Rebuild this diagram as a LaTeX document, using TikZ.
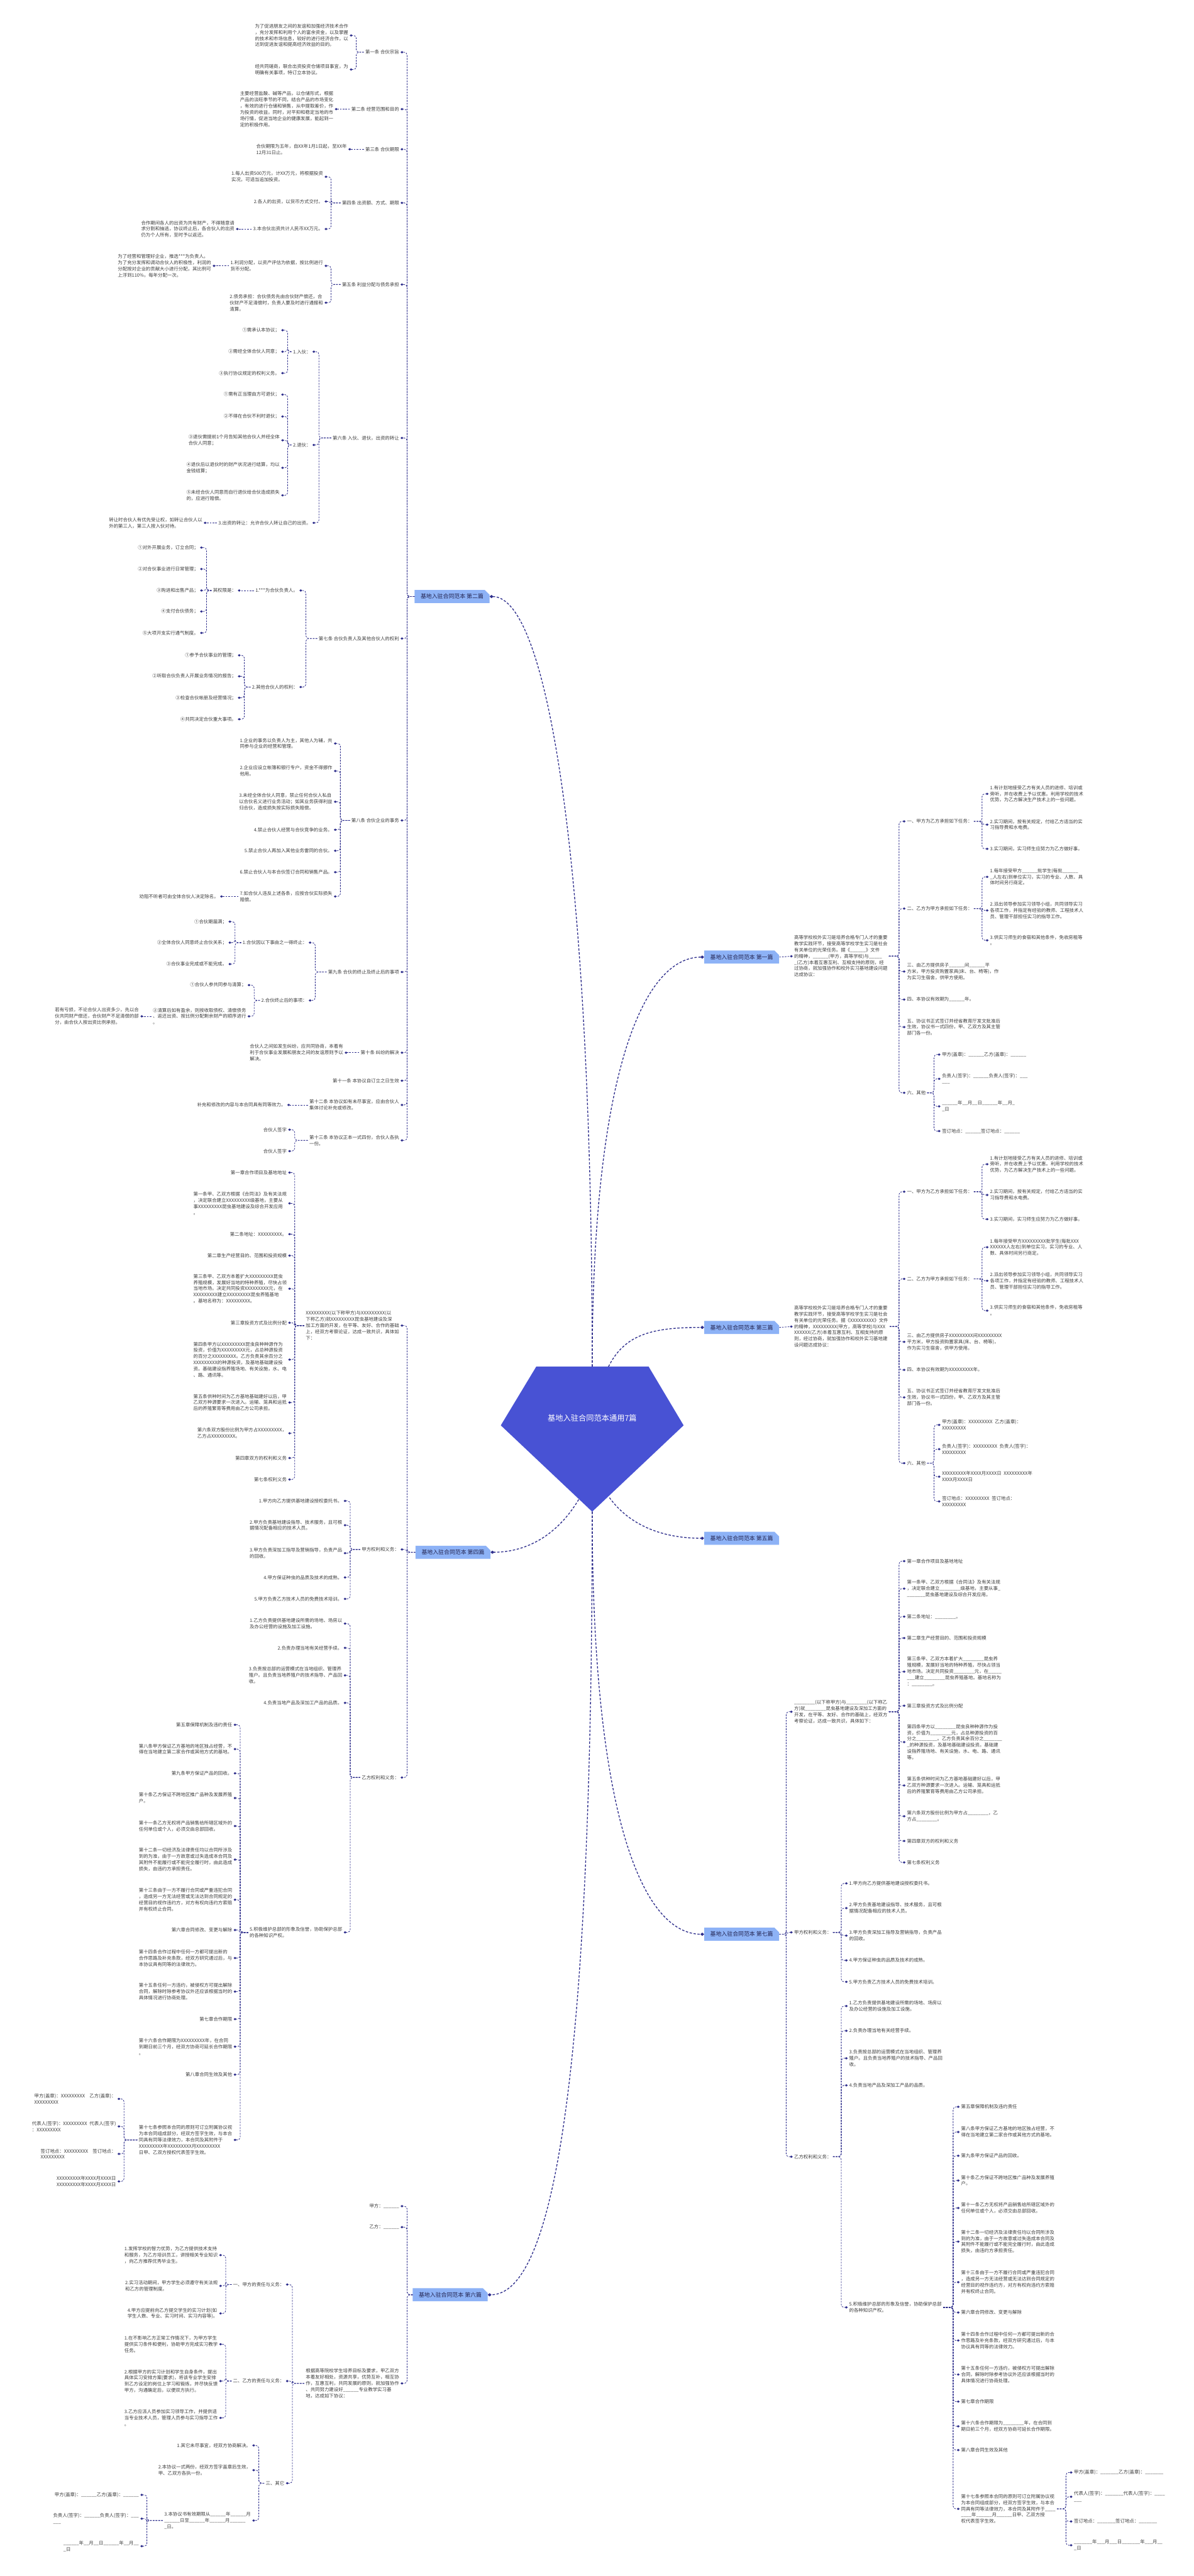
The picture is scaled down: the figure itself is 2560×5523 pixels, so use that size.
\documentclass[tikz,border=0pt]{standalone}
\usepackage{fontspec}
\setmainfont{Noto Sans CJK SC}
\usepackage{xcolor}
\usepackage{tikz}
\usetikzlibrary{positioning,calc,shapes.misc,arrows.meta}

\definecolor{rootblue}{RGB}{72,82,212}
\definecolor{tabblue}{RGB}{141,178,246}
\definecolor{linkblue}{RGB}{46,46,140}
\definecolor{leafgray}{RGB}{60,60,60}
\definecolor{tabtext}{RGB}{35,35,80}
\newcommand{\blanksix}{\_\_\_\_\_\_}
\newcommand{\blankseven}{\_\_\_\_\_\_\_}
\newcommand{\blankeight}{\_\_\_\_\_\_\_\_}

\begin{document}
\begin{tikzpicture}[x=1pt,y=-1pt,
  leaf/.style={font=\fontsize{10}{13.3}\selectfont, text=leafgray, align=left,
    inner xsep=3pt, inner ysep=1pt},
  lnode/.style={leaf, anchor=east},
  rnode/.style={leaf, anchor=west},
  tab/.style={chamfered rectangle, chamfered rectangle corners=north east,
    chamfered rectangle xsep=5pt, chamfered rectangle ysep=5pt, fill=tabblue,
    text=tabtext, font=\fontsize{12}{14}\selectfont, minimum height=28pt, inner xsep=8pt},
  lk/.style={draw=linkblue, line width=1.1pt, dash pattern=on 3.5pt off 2.5pt,
    rounded corners=6pt, -{Diamond[length=6pt,width=5pt]}},
  trunk/.style={draw=linkblue, line width=1.8pt, dash pattern=on 5pt off 3.5pt,
    -{Diamond[length=8pt,width=7pt]}}
]
  \fill[white] (0,0) rectangle (2560,5523);
  \useasboundingbox (0,0) rectangle (2560,5523);

  % root
  \fill[rootblue] (1150,2930) -- (1391,2930) -- (1466,3056) -- (1270,3241) -- (1074,3056) -- cycle;
  \node[font=\fontsize{16.5}{20}\selectfont, text=white] (root) at (1270,3040) {基地入驻合同范本通用7篇};
  \coordinate (rtop) at (1270,2930);
  \coordinate (rtopr) at (1305,2930);
  \coordinate (rbotr) at (1307,3211);
  \coordinate (rbotl) at (1241,3215);
  \coordinate (rtip) at (1270,3241);

  % branches
  \node[tab, anchor=east] (b2) at (1050,1279) {基地入驻合同范本 第二篇};
  \node[tab, anchor=east] (b4) at (1052,3328) {基地入驻合同范本 第四篇};
  \node[tab, anchor=east] (b6) at (1046,4920) {基地入驻合同范本 第六篇};
  \node[tab, anchor=west] (b1) at (1510,2052) {基地入驻合同范本 第一篇};
  \node[tab, anchor=west] (b3) at (1510,2846) {基地入驻合同范本 第三篇};
  \node[tab, anchor=west] (b5) at (1510,3298) {基地入驻合同范本 第五篇};
  \node[tab, anchor=west] (b7) at (1510,4147) {基地入驻合同范本 第七篇};

  \draw[trunk] (rtop) .. controls (1270,1900) and (1180,1279) .. (b2.east);
  \draw[trunk] (rtop) .. controls (1270,2300) and (1380,2052) .. (b1.west);
  \draw[trunk] (rtopr) .. controls (1340,2860) and (1400,2846) .. (b3.west);
  \draw[trunk] (rbotr) .. controls (1350,3270) and (1420,3298) .. (b5.west);
  \draw[trunk] (rbotl) .. controls (1190,3300) and (1120,3328) .. (b4.east);
  \draw[trunk] (rtip) .. controls (1270,4500) and (1180,4920) .. (b6.east);
  \draw[trunk] (rtip) .. controls (1270,3900) and (1380,4147) .. (b7.west);

  % ---------------- 第二篇 ----------------
  \node[lnode] (a1) at (859,112) {第一条 合伙宗旨};
  \node[lnode] (a1p) at (750,76) {为了促进朋友之间的友谊和加强经济技术合作\\，充分发挥和利用个人的富余资金，以及掌握\\的技术和市场信息，较好的进行经济合作，以\\达到促进友谊和提高经济效益的目的。};
  \node[lnode] (a1q) at (750,149) {经共同磋商，联合出资投资仓储项目事宜，为\\明确有关事项，特订立本协议。};
  \node[lnode] (a2) at (859,234) {第二条 经营范围和目的};
  \node[lnode] (a2p) at (718,234) {主要经营盐酸、碱等产品，以仓储形式，根据\\产品的淡旺季节的不同，结合产品的市场变化\\，有效的进行仓储和销售，从中提取差价，作\\为投资的收益。同时，对平抑和稳定当地的市\\场行情，促进当地企业的健康发展，能起到一\\定的积极作用。};
  \node[lnode] (a3) at (859,320) {第三条 合伙期限};
  \node[lnode] (a3p) at (747,320) {合伙期限为五年，自XX年1月1日起，至XX年\\12月31日止。};
  \node[lnode] (a4) at (859,435) {第四条 出资额、方式、期限};
  \node[lnode] (a4p) at (696,379) {1.每人出资500万元，计XX万元，将根据投资\\实况，可适当追加投资。};
  \node[lnode] (a4q) at (696,432) {2.各人的出资，以货币方式交付。};
  \node[lnode] (a4r) at (696,491) {3.本合伙出资共计人民币XX万元。};
  \node[lnode] (a4rr) at (506,491) {合作期间各人的出资为共有财产，不得随意请\\求分割和抽逃，协议终止后，各合伙人的出资\\仍为个人所有，至时予以返还。};
  \node[lnode] (a5) at (859,610) {第五条 利益分配与债务承担};
  \node[lnode] (a5p) at (696,570) {1.利润分配，以资产评估为依据，按比例进行\\货币分配。};
  \node[lnode] (a5q) at (696,649) {2.债务承担：合伙债务先由合伙财产偿还，合\\伙财产不足清偿时，负责人要及时进行通报和\\清算。};
  \node[lnode] (a5pp) at (456,570) {为了经营和管理好企业，推选***为负责人。\\为了充分发挥和调动合伙人的积极性，利润的\\分配按对企业的贡献大小进行分配，其比例可\\上浮到110\%，每年分配一次。};
  \node[lnode] (a6) at (859,939) {第六条 入伙、退伙，出资的转让};
  \node[lnode] (a6in) at (670,754) {1.入伙：};
  \node[lnode] (a6in1) at (603,708) {①需承认本协议；};
  \node[lnode] (a6in2) at (603,754) {②需经全体合伙人同意；};
  \node[lnode] (a6in3) at (603,800) {③执行协议规定的权利义务。};
  \node[lnode] (a6out) at (670,954) {2.退伙：};
  \node[lnode] (a6out1) at (603,846) {①需有正当理由方可退伙；};
  \node[lnode] (a6out2) at (603,893) {②不得在合伙不利时退伙；};
  \node[lnode] (a6out3) at (603,944) {③退伙需提前1个月告知其他合伙人并经全体\\合伙人同意；};
  \node[lnode] (a6out4) at (603,1003) {④退伙后以退伙时的财产状况进行结算，均以\\金钱结算；};
  \node[lnode] (a6out5) at (603,1062) {⑤未经合伙人同意而自行退伙给合伙造成损失\\的，应进行赔偿。};
  \node[lnode] (a6tr) at (670,1121) {3.出资的转让：允许合伙人转让自己的出资。};
  \node[lnode] (a6trx) at (437,1121) {转让时合伙人有优先受让权，如转让合伙人以\\外的第三人，第三人按入伙对待。};
  \node[lnode] (a7) at (859,1369) {第七条 合伙负责人及其他合伙人的权利};
  \node[lnode] (a7a) at (642,1266) {1.***为合伙负责人。};
  \node[lnode] (a7ax) at (510,1266) {其权限是：};
  \node[lnode] (a7ax1) at (429,1174) {①对外开展业务，订立合同；};
  \node[lnode] (a7ax2) at (429,1220) {②对合伙事业进行日常管理；};
  \node[lnode] (a7ax3) at (429,1266) {③购进和出售产品；};
  \node[lnode] (a7ax4) at (429,1311) {④支付合伙债务；};
  \node[lnode] (a7ax5) at (429,1357) {⑤大项开支实行通气制度。};
  \node[lnode] (a7b) at (642,1473) {2.其他合伙人的权利：};
  \node[lnode] (a7b1) at (510,1405) {①参予合伙事业的管理；};
  \node[lnode] (a7b2) at (510,1450) {②听取合伙负责人开展业务情况的报告；};
  \node[lnode] (a7b3) at (510,1496) {③检查合伙帐册及经营情况；};
  \node[lnode] (a7b4) at (510,1542) {④共同决定合伙重大事项。};
  \node[lnode] (a8) at (859,1759) {第八条 合伙企业的事务};
  \node[lnode] (a8n1) at (716,1594) {1.企业的事务以负责人为主，其他人为辅，共\\同参与企业的经营和管理。};
  \node[lnode] (a8n2) at (716,1653) {2.企业应设立帐簿和银行专户，资金不得挪作\\他用。};
  \node[lnode] (a8n3) at (716,1719) {3.未经全体合伙人同意，禁止任何合伙人私自\\以合伙名义进行业务活动；如其业务获得利益\\归合伙，造成损失按实际损失赔偿。};
  \node[lnode] (a8n4) at (716,1779) {4.禁止合伙人经营与合伙竞争的业务。};
  \node[lnode] (a8n5) at (716,1824) {5.禁止合伙人再加入其他业务雷同的合伙。};
  \node[lnode] (a8n6) at (716,1870) {6.禁止合伙人与本合伙签订合同和销售产品。};
  \node[lnode] (a8n7) at (716,1922) {7.如合伙人违反上述各条，应按合伙实际损失\\赔偿。};
  \node[lnode] (a8n7x) at (472,1922) {劝阻不听者可由全体合伙人决定除名。};
  \node[lnode] (a9) at (859,2084) {第九条 合伙的终止及终止后的事项};
  \node[lnode] (a9a) at (662,2021) {1.合伙因以下事由之一得终止：};
  \node[lnode] (a9a1) at (490,1976) {①合伙期届满；};
  \node[lnode] (a9a2) at (490,2021) {②全体合伙人同意终止合伙关系；};
  \node[lnode] (a9a3) at (490,2067) {③合伙事业完成或不能完成。};
  \node[lnode] (a9b) at (662,2145) {2.合伙终止后的事项：};
  \node[lnode] (a9b1) at (531,2112) {①合伙人参共同参与清算；};
  \node[lnode] (a9b2) at (531,2179) {②清算后如有盈余，则按收取债权、清偿债务\\、返还出资、按比例分配剩余财产的顺序进行\\。};
  \node[lnode] (a9b2x) at (301,2179) {若有亏损，不论合伙人出资多少，先以合\\伙共同财产偿还，合伙财产不足清偿的部\\分，由合伙人按出资比例承担。};
  \node[lnode] (a10) at (859,2257) {第十条 纠纷的解决};
  \node[lnode] (a10p) at (739,2257) {合伙人之间如发生纠纷，应共同协商，本着有\\利于合伙事业发展和朋友之间的友谊原则予以\\解决。};
  \node[lnode] (a11) at (859,2317) {第十一条 本协议自订立之日生效};
  \node[lnode] (a12) at (859,2369) {第十二条 本协议如有未尽事宜，应由合伙人\\集体讨论补充或修改。};
  \node[lnode] (a12p) at (616,2369) {补充和修改的内容与本合同具有同等效力。};
  \node[lnode] (a13) at (859,2445) {第十三条 本协议正本一式四份，合伙人各执\\一份。};
  \node[lnode] (a13p) at (618,2422) {合伙人签字};
  \node[lnode] (a13q) at (618,2468) {合伙人签字};

  \foreach \c in {a1,a2,a3,a4,a5,a6,a7,a8,a9,a10,a11,a12,a13}
    \draw[lk] (b2.west) -| ($(\c.east)+(14,0)$) -- (\c.east);
  \foreach \c in {a1p,a1q} \draw[lk] (a1.west) -| ($(\c.east)+(14,0)$) -- (\c.east);
  \draw[lk] (a2.west) -- (a2p.east);
  \draw[lk] (a3.west) -- (a3p.east);
  \foreach \c in {a4p,a4q,a4r} \draw[lk] (a4.west) -| ($(\c.east)+(14,0)$) -- (\c.east);
  \draw[lk] (a4r.west) -- (a4rr.east);
  \foreach \c in {a5p,a5q} \draw[lk] (a5.west) -| ($(\c.east)+(14,0)$) -- (\c.east);
  \draw[lk] (a5p.west) -- (a5pp.east);
  \foreach \c in {a6in,a6out,a6tr} \draw[lk] (a6.west) -| ($(\c.east)+(14,0)$) -- (\c.east);
  \foreach \c in {a6in1,a6in2,a6in3} \draw[lk] (a6in.west) -| ($(\c.east)+(14,0)$) -- (\c.east);
  \foreach \c in {a6out1,a6out2,a6out3,a6out4,a6out5} \draw[lk] (a6out.west) -| ($(\c.east)+(14,0)$) -- (\c.east);
  \draw[lk] (a6tr.west) -- (a6trx.east);
  \foreach \c in {a7a,a7b} \draw[lk] (a7.west) -| ($(\c.east)+(14,0)$) -- (\c.east);
  \draw[lk] (a7a.west) -- (a7ax.east);
  \foreach \c in {a7ax1,a7ax2,a7ax3,a7ax4,a7ax5} \draw[lk] (a7ax.west) -| ($(\c.east)+(14,0)$) -- (\c.east);
  \foreach \c in {a7b1,a7b2,a7b3,a7b4} \draw[lk] (a7b.west) -| ($(\c.east)+(14,0)$) -- (\c.east);
  \foreach \c in {a8n1,a8n2,a8n3,a8n4,a8n5,a8n6,a8n7} \draw[lk] (a8.west) -| ($(\c.east)+(14,0)$) -- (\c.east);
  \draw[lk] (a8n7.west) -- (a8n7x.east);
  \foreach \c in {a9a,a9b} \draw[lk] (a9.west) -| ($(\c.east)+(14,0)$) -- (\c.east);
  \foreach \c in {a9a1,a9a2,a9a3} \draw[lk] (a9a.west) -| ($(\c.east)+(14,0)$) -- (\c.east);
  \foreach \c in {a9b1,a9b2} \draw[lk] (a9b.west) -| ($(\c.east)+(14,0)$) -- (\c.east);
  \draw[lk] (a9b2.west) -- (a9b2x.east);
  \draw[lk] (a10.west) -- (a10p.east);
  \draw[lk] (a12.west) -- (a12p.east);
  \foreach \c in {a13p,a13q} \draw[lk] (a13.west) -| ($(\c.east)+(14,0)$) -- (\c.east);

  % ---------------- 第四篇 ----------------
  \node[lnode] (c0) at (859,2842) {XXXXXXXXX(以下称甲方)与XXXXXXXXX(以\\下称乙方)就XXXXXXXXX昆虫基地建设及深\\加工方面的开发，在平等、友好、合作的基础\\上，经双方考察论证，达成一致共识，具体如\\下：};
  \node[lnode] (ca) at (859,3322) {甲方权利和义务：};
  \node[lnode] (cb) at (859,3811) {乙方权利和义务：};
  \node[lnode] (c0n1) at (618,2514) {第一章合作项目及基地地址};
  \node[lnode] (c0n2) at (618,2580) {第一条甲、乙双方根据《合同法》及有关法规\\，决定联合建立XXXXXXXXX级基地，主要从\\事XXXXXXXXX昆虫基地建设及综合开发应用\\。};
  \node[lnode] (c0n3) at (618,2646) {第二条地址：XXXXXXXXX。};
  \node[lnode] (c0n4) at (618,2692) {第二章生产经营目的、范围和投资规模};
  \node[lnode] (c0n5) at (618,2763) {第三条甲、乙双方本着扩大XXXXXXXXX昆虫\\养殖规模，发展好当地的特种养殖，尽快占领\\当地市场。决定共同投资XXXXXXXXX元，在\\XXXXXXXXX建立XXXXXXXXX昆虫养殖基地\\。基地名称为：XXXXXXXXX。};
  \node[lnode] (c0n6) at (618,2836) {第三章投资方式及比例分配};
  \node[lnode] (c0n7) at (618,2915) {第四条甲方以XXXXXXXXX昆虫良种种源作为\\投资，价值为XXXXXXXXX元，占总种源投资\\的百分之XXXXXXXXX。乙方负责其余百分之\\XXXXXXXXX的种源投资，及基地基础建设投\\资。基础建设指养殖场地、有关设施，水、电\\、路、通讯等。};
  \node[lnode] (c0n8) at (618,3007) {第五条供种时间为乙方基地基础建好以后，甲\\乙双方种源要求一次进入。运输、笼具和运抵\\后的养殖繁育等费用由乙方公司承担。};
  \node[lnode] (c0n9) at (618,3073) {第六条双方股份比例为甲方占XXXXXXXXX，\\乙方占XXXXXXXXX。};
  \node[lnode] (c0n10) at (618,3126) {第四章双方的权利和义务};
  \node[lnode] (c0n11) at (618,3172) {第七条权利义务};
  \node[lnode] (ca1) at (737,3218) {1.甲方向乙方提供基地建设授权委托书。};
  \node[lnode] (ca2) at (737,3270) {2.甲方负责基地建设指导、技术服务，且可根\\据情况配备相应的技术人员。};
  \node[lnode] (ca3) at (737,3330) {3.甲方负责深加工指导及营销指导，负责产品\\的回收。};
  \node[lnode] (ca4) at (737,3382) {4.甲方保证种虫的品质及技术的成熟。};
  \node[lnode] (ca5) at (737,3428) {5.甲方负责乙方技术人员的免费技术培训。};
  \node[lnode] (cb1) at (737,3481) {1.乙方负责提供基地建设所需的场地、场房以\\及办公经营的设施及加工设施。};
  \node[lnode] (cb2) at (737,3533) {2.负责办理当地有关经营手续。};
  \node[lnode] (cb3) at (737,3592) {3.负责按总部的运营模式在当地组织、管理养\\殖户。且负责当地养殖户的技术指导、产品回\\收。};
  \node[lnode] (cb4) at (737,3651) {4.负责当地产品及深加工产品的品质。};
  \node[lnode] (cb5) at (737,4143) {5.积极维护总部的形象及信誉，协助保护总部\\的各种知识产权。};
  \node[lnode] (cb5n1) at (501,3698) {第五章保障机制及违约责任};
  \node[lnode] (cb5n2) at (501,3750) {第八条甲方保证乙方基地的地区独占经营，不\\得在当地建立第二家合作或其他方式的基地。};
  \node[lnode] (cb5n3) at (501,3802) {第九条甲方保证产品的回收。};
  \node[lnode] (cb5n4) at (501,3855) {第十条乙方保证不跨地区推广品种及发展养殖\\户。};
  \node[lnode] (cb5n5) at (501,3915) {第十一条乙方无权将产品销售给所辖区域外的\\任何单位或个人，必须交由总部回收。};
  \node[lnode] (cb5n6) at (501,3987) {第十二条一切经济及法律责任均以合同所涉及\\到的为准，由于一方故意或过失造成本合同及\\其附件不能履行或不能完全履行时，由此造成\\损失，由违约方承担责任。};
  \node[lnode] (cb5n7) at (501,4073) {第十三条由于一方不履行合同或严重违犯合同\\，造成另一方无法经营或无法达到合同规定的\\经营目的视作违约方，对方有权向违约方索赔\\并有权终止合同。};
  \node[lnode] (cb5n8) at (501,4138) {第六章合同修改、变更与解除};
  \node[lnode] (cb5n9) at (501,4198) {第十四条合作过程中任何一方都可提出新的\\合作思路及补充条款，经双方研究通过后，与\\本协议具有同等的法律效力。};
  \node[lnode] (cb5n10) at (501,4270) {第十五条任何一方违约，被侵权方可提出解除\\合同，解除时除参考协议外还应该根据当时的\\具体情况进行协商处理。};
  \node[lnode] (cb5n11) at (501,4329) {第七章合作期限};
  \node[lnode] (cb5n12) at (501,4388) {第十六条合作期限为XXXXXXXXX年，在合同\\到期日前三个月，经双方协商可延长合作期限\\。};
  \node[lnode] (cb5n13) at (501,4448) {第八章合同生效及其他};
  \node[lnode] (cb5n14) at (501,4588) {第十七条参照本合同的原则可订立附属协议视\\为本合同组成部分，经双方签字生效，与本合\\同具有同等法律效力，本合同及其附件于\\XXXXXXXXX年XXXXXXXXX月XXXXXXXXX\\日甲、乙双方授权代表签字生效。};
  \node[lnode] (cb5q1) at (252,4500) {甲方(盖章)：XXXXXXXXX\quad 乙方(盖章)：\\XXXXXXXXX};
  \node[lnode] (cb5q2) at (252,4559) {代表人(签字)：XXXXXXXXX\enspace 代表人(签字)\\：XXXXXXXXX};
  \node[lnode] (cb5q3) at (252,4618) {签订地点：XXXXXXXXX\quad 签订地点：\\XXXXXXXXX};
  \node[lnode] (cb5q4) at (252,4677) {XXXXXXXXX年XXXX月XXXX日\\XXXXXXXXX年XXXX月XXXX日};

  \foreach \c in {c0,ca,cb} \draw[lk] (b4.west) -| ($(\c.east)+(14,0)$) -- (\c.east);
  \foreach \c in {c0n1,c0n2,c0n3,c0n4,c0n5,c0n6,c0n7,c0n8,c0n9,c0n10,c0n11}
    \draw[lk] (c0.west) -| ($(\c.east)+(14,0)$) -- (\c.east);
  \foreach \c in {ca1,ca2,ca3,ca4,ca5} \draw[lk] (ca.west) -| ($(\c.east)+(14,0)$) -- (\c.east);
  \foreach \c in {cb1,cb2,cb3,cb4,cb5} \draw[lk] (cb.west) -| ($(\c.east)+(14,0)$) -- (\c.east);
  \foreach \c in {cb5n1,cb5n2,cb5n3,cb5n4,cb5n5,cb5n6,cb5n7,cb5n8,cb5n9,cb5n10,cb5n11,cb5n12,cb5n13,cb5n14}
    \draw[lk] (cb5.west) -| ($(\c.east)+(14,0)$) -- (\c.east);
  \foreach \c in {cb5q1,cb5q2,cb5q3,cb5q4} \draw[lk] (cb5n14.west) -| ($(\c.east)+(14,0)$) -- (\c.east);

  % ---------------- 第六篇 ----------------
  \node[lnode] (d1) at (859,4730) {甲方：\blanksix};
  \node[lnode] (d2) at (859,4775) {乙方：\blanksix};
  \node[lnode] (d3) at (859,5110) {根据高等院校学生培养目标及要求，甲乙双方\\本着友好相处，资源共享，优势互补，相互协\\作，互惠互利，共同发展的原则，就加强协作\\、共同努力建设好\blanksix{}专业教学实习基\\地，达成如下协议：};
  \node[lnode] (d31) at (613,4898) {一、甲方的责任与义务：};
  \node[lnode] (d32) at (613,5105) {二、乙方的责任与义务：};
  \node[lnode] (d33) at (613,5324) {三、其它};
  \node[lnode] (d31a) at (470,4835) {1.发挥学校的智力优势，为乙方提供技术支持\\和服务，为乙方培训员工，讲授相关专业知识\\，向乙方推荐优秀毕业生。};
  \node[lnode] (d31b) at (470,4901) {2.实习活动期间，甲方学生必须遵守有关法规\\和乙方的管理制度。};
  \node[lnode] (d31c) at (470,4960) {4.甲方应提前向乙方提交学生的实习计划(如\\学生人数、专业、实习时间、实习内容等)。};
  \node[lnode] (d32a) at (470,5026) {1.在不影响乙方正常工作情况下，为甲方学生\\提供实习条件和便利，协助甲方完成实习教学\\任务。};
  \node[lnode] (d32b) at (470,5105) {2.根据甲方的实习计划和学生自身条件，提出\\具体实习安排方案(要求)，将该专业学生安排\\到乙方设定的岗位上学习和锻炼，并尽快反馈\\甲方，沟通确定后，以便双方执行。};
  \node[lnode] (d32c) at (470,5184) {3.乙方应派人员参加实习领导工作，并提供适\\当专业技术人员，管理人员参与实习指导工作\\。};
  \node[lnode] (d33a) at (541,5243) {1.其它未尽事宜，经双方协商解决。};
  \node[lnode] (d33b) at (541,5296) {2.本协议一式两份，经双方签字盖章后生效，\\甲、乙双方各执一份。};
  \node[lnode] (d33c) at (541,5404) {3.本协议书有效期限从\blanksix{}年\blanksix{}月\\\blanksix{}日至\blanksix{}年\blanksix{}月\blanksix\\\_日。};
  \node[lnode] (d33c1) at (301,5349) {甲方(盖章)：\blanksix{}乙方(盖章)：\blanksix};
  \node[lnode] (d33c2) at (301,5400) {负责人(签字)：\blanksix{}负责人(签字)：\_\_\_\\\_\_\_};
  \node[lnode] (d33c3) at (301,5459) {\blanksix{}年\_\_月\_\_日\blanksix{}年\_\_月\_\_\\\_日};

  \foreach \c in {d1,d2,d3} \draw[lk] (b6.west) -| ($(\c.east)+(14,0)$) -- (\c.east);
  \foreach \c in {d31,d32,d33} \draw[lk] (d3.west) -| ($(\c.east)+(14,0)$) -- (\c.east);
  \foreach \c in {d31a,d31b,d31c} \draw[lk] (d31.west) -| ($(\c.east)+(14,0)$) -- (\c.east);
  \foreach \c in {d32a,d32b,d32c} \draw[lk] (d32.west) -| ($(\c.east)+(14,0)$) -- (\c.east);
  \foreach \c in {d33a,d33b,d33c} \draw[lk] (d33.west) -| ($(\c.east)+(14,0)$) -- (\c.east);
  \foreach \c in {d33c1,d33c2,d33c3} \draw[lk] (d33c.west) -| ($(\c.east)+(14,0)$) -- (\c.east);

  % ---------------- 第一篇 ----------------
  \node[rnode] (e0) at (1700,2050) {高等学校校外实习是培养合格专门人才的重要\\教学实践环节，接受高等学校学生实习是社会\\有关单位的光荣任务。据《\blanksix{}》文件\\的精神，\blanksix{}(甲方，高等学校)与\_\_\_\_\_\\\_(乙方)本着互惠互利、互相支持的原则，经\\过协商，就加强协作和校外实习基地建设问题\\达成协议：};
  \node[rnode] (e1) at (1942,1761) {一、甲方为乙方承担如下任务：};
  \node[rnode] (e2) at (1942,1948) {二、乙方为甲方承担如下任务：};
  \node[rnode] (e3) at (1942,2083) {三、由乙方提供房子\blanksix{}间\blanksix{}平\\方米，甲方投资购置家具(床、台、椅等)，作\\为实习生宿舍，供甲方使用。};
  \node[rnode] (e4) at (1942,2143) {四、本协议有效期为\blanksix{}年。};
  \node[rnode] (e5) at (1942,2202) {五、协议书正式签订并经省教育厅发文批准后\\生效，协议书一式四份，甲、乙双方及其主管\\部门各一份。};
  \node[rnode] (e6) at (1942,2343) {六、其他};
  \node[rnode] (e1a) at (2120,1702) {1.有计划地接受乙方有关人员的进修、培训或\\旁听，并在收费上予以优惠。利用学校的技术\\优势，为乙方解决生产技术上的一些问题。};
  \node[rnode] (e1b) at (2120,1768) {2.实习期间，按有关规定，付给乙方适当的实\\习指导费和水电费。};
  \node[rnode] (e1c) at (2120,1820) {3.实习期间，实习师生应努力为乙方做好事。};
  \node[rnode] (e2a) at (2120,1880) {1.每年接受甲方\blanksix{}批学生(每批\blanksix\\\_人左右)到单位实习，实习的专业、人数、具\\体时间另行商定。};
  \node[rnode] (e2b) at (2120,1952) {2.派出领导参加实习领导小组，共同领导实习\\各项工作，并指定有经验的教师、工程技术人\\员、管理干部担任实习的指导工作。};
  \node[rnode] (e2c) at (2120,2016) {3.供实习师生的食宿和其他条件，免收房租等\\。};
  \node[rnode] (e6a) at (2017,2261) {甲方(盖章)：\blanksix{}乙方(盖章)：\blanksix};
  \node[rnode] (e6b) at (2017,2313) {负责人(签字)：\blanksix{}负责人(签字)：\_\_\_\\\_\_\_};
  \node[rnode] (e6c) at (2017,2372) {\blanksix{}年\_\_月\_\_日\blanksix{}年\_\_月\_\\\_日};
  \node[rnode] (e6d) at (2017,2425) {签订地点：\blanksix{}签订地点：\blanksix};

  \draw[lk] (b1.east) -- (e0.west);
  \foreach \c in {e1,e2,e3,e4,e5,e6} \draw[lk] (e0.east) -| ($(\c.west)+(-14,0)$) -- (\c.west);
  \foreach \c in {e1a,e1b,e1c} \draw[lk] (e1.east) -| ($(\c.west)+(-14,0)$) -- (\c.west);
  \foreach \c in {e2a,e2b,e2c} \draw[lk] (e2.east) -| ($(\c.west)+(-14,0)$) -- (\c.west);
  \foreach \c in {e6a,e6b,e6c,e6d} \draw[lk] (e6.east) -| ($(\c.west)+(-14,0)$) -- (\c.west);

  % ---------------- 第三篇 ----------------
  \node[rnode] (k0) at (1700,2844) {高等学校校外实习是培养合格专门人才的重要\\教学实践环节，接受高等学校学生实习是社会\\有关单位的光荣任务。据《XXXXXXXXX》文件\\的精神，XXXXXXXXX(甲方，高等学校)与XXX\\XXXXXX(乙方)本着互惠互利、互相支持的原\\则，经过协商，就加强协作和校外实习基地建\\设问题达成协议：};
  \node[rnode] (k1) at (1942,2555) {一、甲方为乙方承担如下任务：};
  \node[rnode] (k2) at (1942,2742) {二、乙方为甲方承担如下任务：};
  \node[rnode] (k3) at (1942,2877) {三、由乙方提供房子XXXXXXXXX间XXXXXXXXX\\平方米，甲方投资购置家具(床、台、椅等)，\\作为实习生宿舍，供甲方使用。};
  \node[rnode] (k4) at (1942,2937) {四、本协议有效期为XXXXXXXXX年。};
  \node[rnode] (k5) at (1942,2996) {五、协议书正式签订并经省教育厅发文批准后\\生效，协议书一式四份，甲、乙双方及其主管\\部门各一份。};
  \node[rnode] (k6) at (1942,3137) {六、其他};
  \node[rnode] (k1a) at (2120,2496) {1.有计划地接受乙方有关人员的进修、培训或\\旁听，并在收费上予以优惠。利用学校的技术\\优势，为乙方解决生产技术上的一些问题。};
  \node[rnode] (k1b) at (2120,2562) {2.实习期间，按有关规定，付给乙方适当的实\\习指导费和水电费。};
  \node[rnode] (k1c) at (2120,2614) {3.实习期间，实习师生应努力为乙方做好事。};
  \node[rnode] (k2a) at (2120,2674) {1.每年接受甲方XXXXXXXXX批学生(每批XXX\\XXXXXX人左右)到单位实习，实习的专业、人\\数、具体时间另行商定。};
  \node[rnode] (k2b) at (2120,2746) {2.派出领导参加实习领导小组，共同领导实习\\各项工作，并指定有经验的教师、工程技术人\\员、管理干部担任实习的指导工作。};
  \node[rnode] (k2c) at (2120,2810) {3.供实习师生的食宿和其他条件，免收房租等\\。};
  \node[rnode] (k6a) at (2017,3055) {甲方(盖章)：XXXXXXXXX\enspace 乙方(盖章)：\\XXXXXXXXX};
  \node[rnode] (k6b) at (2017,3107) {负责人(签字)：XXXXXXXXX\enspace 负责人(签字)：\\XXXXXXXXX};
  \node[rnode] (k6c) at (2017,3166) {XXXXXXXXX年XXXX月XXXX日\enspace XXXXXXXXX年\\XXXX月XXXX日};
  \node[rnode] (k6d) at (2017,3219) {签订地点：XXXXXXXXX\enspace 签订地点：\\XXXXXXXXX};

  \draw[lk] (b3.east) -- (k0.west);
  \foreach \c in {k1,k2,k3,k4,k5,k6} \draw[lk] (k0.east) -| ($(\c.west)+(-14,0)$) -- (\c.west);
  \foreach \c in {k1a,k1b,k1c} \draw[lk] (k1.east) -| ($(\c.west)+(-14,0)$) -- (\c.west);
  \foreach \c in {k2a,k2b,k2c} \draw[lk] (k2.east) -| ($(\c.west)+(-14,0)$) -- (\c.west);
  \foreach \c in {k6a,k6b,k6c,k6d} \draw[lk] (k6.east) -| ($(\c.west)+(-14,0)$) -- (\c.west);

  % ---------------- 第七篇 ----------------
  \node[rnode] (m0) at (1700,3670) {\blankeight(以下称甲方)与\blankeight(以下称乙\\方)就\blankeight{}昆虫基地建设及深加工方面的\\开发，在平等、友好、合作的基础上，经双方\\考察论证，达成一致共识，具体如下：};
  \node[rnode] (ma) at (1700,4143) {甲方权利和义务：};
  \node[rnode] (mb) at (1700,4624) {乙方权利和义务：};
  \node[rnode] (m0n1) at (1942,3347) {第一章合作项目及基地地址};
  \node[rnode] (m0n2) at (1942,3406) {第一条甲、乙双方根据《合同法》及有关法规\\，决定联合建立\blankeight{}级基地，主要从事\_\\\blankseven{}昆虫基地建设及综合开发应用。};
  \node[rnode] (m0n3) at (1942,3466) {第二条地址：\blankeight{}。};
  \node[rnode] (m0n4) at (1942,3512) {第二章生产经营目的、范围和投资规模};
  \node[rnode] (m0n5) at (1942,3584) {第三条甲、乙双方本着扩大\blankeight{}昆虫养\\殖规模，发展好当地的特种养殖，尽快占领当\\地市场。决定共同投资\blankeight{}元，在\_\_\_\_\_\\\_\_\_建立\blankeight{}昆虫养殖基地。基地名称为\\：\blankeight{}。};
  \node[rnode] (m0n6) at (1942,3657) {第三章投资方式及比例分配};
  \node[rnode] (m0n7) at (1942,3735) {第四条甲方以\blankeight{}昆虫良种种源作为投\\资，价值为\blankeight{}元，占总种源投资的百\\分之\blankeight{}。乙方负责其余百分之\blankseven\\\_的种源投资，及基地基础建设投资。基础建\\设指养殖场地、有关设施，水、电、路、通讯\\等。};
  \node[rnode] (m0n8) at (1942,3828) {第五条供种时间为乙方基地基础建好以后，甲\\乙双方种源要求一次进入。运输、笼具和运抵\\后的养殖繁育等费用由乙方公司承担。};
  \node[rnode] (m0n9) at (1942,3894) {第六条双方股份比例为甲方占\blankeight{}，乙\\方占\blankeight{}。};
  \node[rnode] (m0n10) at (1942,3947) {第四章双方的权利和义务};
  \node[rnode] (m0n11) at (1942,3993) {第七条权利义务};
  \node[rnode] (ma1) at (1818,4038) {1.甲方向乙方提供基地建设授权委托书。};
  \node[rnode] (ma2) at (1818,4091) {2.甲方负责基地建设指导、技术服务，且可根\\据情况配备相应的技术人员。};
  \node[rnode] (ma3) at (1818,4150) {3.甲方负责深加工指导及营销指导，负责产品\\的回收。};
  \node[rnode] (ma4) at (1818,4203) {4.甲方保证种虫的品质及技术的成熟。};
  \node[rnode] (ma5) at (1818,4249) {5.甲方负责乙方技术人员的免费技术培训。};
  \node[rnode] (mb1) at (1818,4301) {1.乙方负责提供基地建设所需的场地、场房以\\及办公经营的设施及加工设施。};
  \node[rnode] (mb2) at (1818,4354) {2.负责办理当地有关经营手续。};
  \node[rnode] (mb3) at (1818,4413) {3.负责按总部的运营模式在当地组织、管理养\\殖户。且负责当地养殖户的技术指导、产品回\\收。};
  \node[rnode] (mb4) at (1818,4471) {4.负责当地产品及深加工产品的品质。};
  \node[rnode] (mb5) at (1818,4947) {5.积极维护总部的形象及信誉，协助保护总部\\的各种知识产权。};
  \node[rnode] (mb5n1) at (2058,4517) {第五章保障机制及违约责任};
  \node[rnode] (mb5n2) at (2058,4571) {第八条甲方保证乙方基地的地区独占经营，不\\得在当地建立第二家合作或其他方式的基地。};
  \node[rnode] (mb5n3) at (2058,4622) {第九条甲方保证产品的回收。};
  \node[rnode] (mb5n4) at (2058,4675) {第十条乙方保证不跨地区推广品种及发展养殖\\户。};
  \node[rnode] (mb5n5) at (2058,4734) {第十一条乙方无权将产品销售给所辖区域外的\\任何单位或个人，必须交由总部回收。};
  \node[rnode] (mb5n6) at (2058,4806) {第十二条一切经济及法律责任均以合同所涉及\\到的为准，由于一方故意或过失造成本合同及\\其附件不能履行或不能完全履行时，由此造成\\损失，由违约方承担责任。};
  \node[rnode] (mb5n7) at (2058,4893) {第十三条由于一方不履行合同或严重违犯合同\\，造成另一方无法经营或无法达到合同规定的\\经营目的视作违约方，对方有权向违约方索赔\\并有权终止合同。};
  \node[rnode] (mb5n8) at (2058,4958) {第六章合同修改、变更与解除};
  \node[rnode] (mb5n9) at (2058,5018) {第十四条合作过程中任何一方都可提出新的合\\作思路及补充条款，经双方研究通过后，与本\\协议具有同等的法律效力。};
  \node[rnode] (mb5n10) at (2058,5091) {第十五条任何一方违约，被侵权方可提出解除\\合同，解除时除参考协议外还应该根据当时的\\具体情况进行协商处理。};
  \node[rnode] (mb5n11) at (2058,5149) {第七章合作期限};
  \node[rnode] (mb5n12) at (2058,5202) {第十六条合作期限为\blankeight{}年，在合同到\\期日前三个月，经双方协商可延长合作期限。};
  \node[rnode] (mb5n13) at (2058,5253) {第八章合同生效及其他};
  \node[rnode] (mb5n14) at (2058,5379) {第十七条参照本合同的原则可订立附属协议视\\为本合同组成部分，经双方签字生效，与本合\\同具有同等法律效力，本合同及其附件于\_\_\_\_\\\_\_\_\_年\blanksix{}月\blanksix{}日甲、乙双方授\\权代表签字生效。};
  \node[rnode] (mb5q1) at (2300,5301) {甲方(盖章)：\blankseven{}乙方(盖章)：\blankseven};
  \node[rnode] (mb5q2) at (2300,5353) {代表人(签字)：\blankseven{}代表人(签字)：\_\_\_\_\\\_\_\_};
  \node[rnode] (mb5q3) at (2300,5406) {签订地点：\blankseven{}签订地点：\blankseven};
  \node[rnode] (mb5q4) at (2300,5457) {\blankseven{}年\_\_\_月\_\_\_日\blankseven{}年\_\_\_月\_\_\\\_日};

  \foreach \c in {m0,ma,mb} \draw[lk] (b7.east) -| ($(\c.west)+(-14,0)$) -- (\c.west);
  \foreach \c in {m0n1,m0n2,m0n3,m0n4,m0n5,m0n6,m0n7,m0n8,m0n9,m0n10,m0n11}
    \draw[lk] (m0.east) -| ($(\c.west)+(-14,0)$) -- (\c.west);
  \foreach \c in {ma1,ma2,ma3,ma4,ma5} \draw[lk] (ma.east) -| ($(\c.west)+(-14,0)$) -- (\c.west);
  \foreach \c in {mb1,mb2,mb3,mb4,mb5} \draw[lk] (mb.east) -| ($(\c.west)+(-14,0)$) -- (\c.west);
  \foreach \c in {mb5n1,mb5n2,mb5n3,mb5n4,mb5n5,mb5n6,mb5n7,mb5n8,mb5n9,mb5n10,mb5n11,mb5n12,mb5n13,mb5n14}
    \draw[lk] (mb5.east) -| ($(\c.west)+(-14,0)$) -- (\c.west);
  \foreach \c in {mb5q1,mb5q2,mb5q3,mb5q4} \draw[lk] (mb5n14.east) -| ($(\c.west)+(-14,0)$) -- (\c.west);
\end{tikzpicture}
\end{document}
